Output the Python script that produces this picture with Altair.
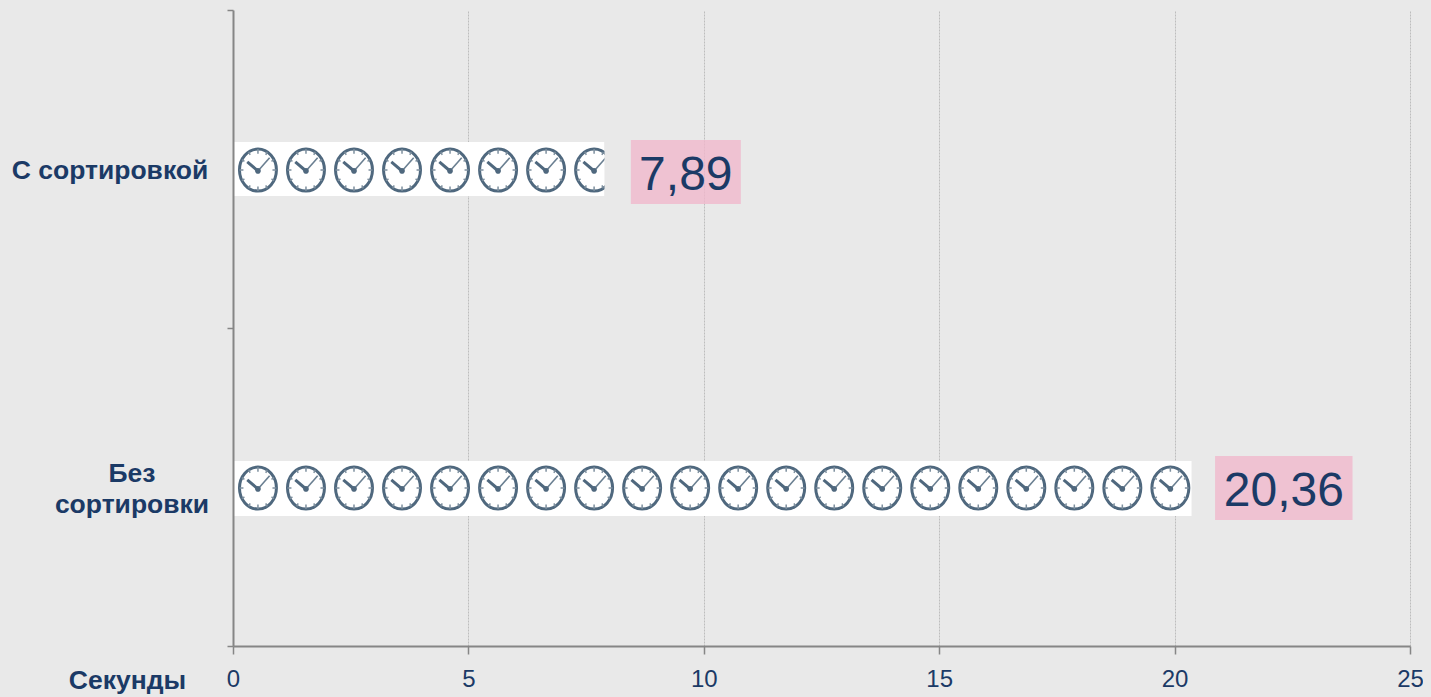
import math
import altair as alt
import pandas as pd

categories = ["С сортировкой", "Без сортировки"]
category_labels = ["С сортировкой", "Без\nсортировки"]
seconds = [7.89, 20.36]
value_labels = ["7,89", "20,36"]
clocks_sorted = [0.53, 1.55, 2.57, 3.59, 4.61, 5.63, 6.65, 7.67]
clocks_unsorted = [0.53, 1.55, 2.57, 3.59, 4.61, 5.63, 6.65, 7.67, 8.69, 9.71,
                   10.73, 11.75, 12.77, 13.79, 14.81, 15.83, 16.85, 17.87, 18.89, 19.91]
x_ticks = [0, 5, 10, 15, 20, 25]

BG = "#e9e9e9"
INK = "#1b3a66"
AXIS = "#868686"
CLOCK = "#4f687e"

bars = pd.DataFrame({"cat": categories, "label": category_labels, "value": seconds, "text": value_labels})
clocks = pd.DataFrame({
    "cat": [categories[0]] * len(clocks_sorted) + [categories[1]] * len(clocks_unsorted),
    "x": clocks_sorted + clocks_unsorted,
})

X = alt.X("value:Q", scale=alt.Scale(domain=[0, 25], nice=False), axis=alt.Axis(
    values=x_ticks, format="d", title="Секунды", titleFont="Liberation Sans", titleFontSize=26.5,
    titleFontWeight="bold", titleColor=INK, titleX=-106, titleY=34, titleAlign="center",
    titleBaseline="middle", labelFont="Liberation Sans", labelFontSize=24, labelColor=INK,
    labelPadding=13, labelFlush=False, tickColor=AXIS, tickSize=8, tickWidth=1.5, domainColor=AXIS, domainWidth=2,
    grid=True, gridColor="#bdbdbd", gridWidth=1, gridDash=[2, 1], zindex=0))
Y = alt.Y("cat:N", sort=categories, scale=alt.Scale(paddingInner=0, paddingOuter=0), axis=alt.Axis(
    title=None, labels=False, bandPosition=0, tickBand="extent", tickColor=AXIS, tickSize=6,
    tickWidth=1.5, domainColor=AXIS, domainWidth=2, grid=False, zindex=1))
Y_PLAIN = alt.Y("cat:N", sort=categories)

base = alt.Chart(bars)


def only(index):
    return base.transform_filter(alt.datum.cat == categories[index])


bar_a = only(0).mark_bar(color="#ffffff", size=54).encode(x=X, y=Y)
bar_b = only(1).mark_bar(color="#ffffff", size=55, yOffset=1.5).encode(x=alt.X("value:Q"), y=Y_PLAIN)


def ring():
    return "M-0.84,0.05A0.84,0.955,0,1,1,0.84,0.05A0.84,0.955,0,1,1,-0.84,0.05Z"


def ticks():
    parts = []
    for k in range(12):
        a = k * math.pi / 6
        inner = 0.66 if k % 3 == 0 else 0.71
        parts.append("M%.3f,%.3fL%.3f,%.3f" % (0.84 * math.cos(a), 0.05 + 0.955 * math.sin(a),
                                              inner * math.cos(a), 0.05 + inner * 1.13 * math.sin(a)))
    return "".join(parts)


HUB = "M-0.13,0.09A0.13,0.13,0,1,1,0.13,0.09A0.13,0.13,0,1,1,-0.13,0.09Z"
HOUR = "M0,0.09L-0.486,-0.32"
MINUTE = "M0,0.09L0.53,-0.51"
SIZE = 44 ** 2
clock_base = alt.Chart(clocks).encode(x=alt.X("x:Q"), y=Y_PLAIN)
clock_layers = [
    clock_base.mark_point(shape=ring(), size=SIZE, stroke=CLOCK, strokeWidth=3, fill="#ffffff", fillOpacity=1, opacity=1),
    clock_base.mark_point(shape=ticks(), size=SIZE, stroke="#7d8f9e", strokeWidth=1.5, filled=False, opacity=1),
    clock_base.mark_point(shape=HOUR, size=SIZE, stroke=CLOCK, strokeWidth=3, filled=False, opacity=1),
    clock_base.mark_point(shape=MINUTE, size=SIZE, stroke="#6a7f91", strokeWidth=1.6, filled=False, opacity=1),
    clock_base.mark_point(shape=HUB, size=SIZE, fill=CLOCK, filled=True, opacity=1, strokeWidth=0),
]

# Hides the part of a clock that runs past the end of its bar.
mask = only(0).transform_calculate(end="datum.value + 0.5").mark_bar(color=BG, size=56).encode(
    x=alt.X("value:Q"), x2="end:Q", y=Y_PLAIN)


def box(index, gap, offset):
    return only(index).transform_calculate(
        left=f"datum.value + {gap}", right=f"datum.value + {gap} + length(datum.text) * 0.584"
    ).mark_bar(color="#f0b8cc", opacity=0.8, size=64, yOffset=offset).encode(
        x=alt.X("left:Q"), x2="right:Q", y=Y_PLAIN)


def value_text(index, gap, dy):
    return only(index).transform_calculate(mid=f"datum.value + {gap} + length(datum.text) * 0.292").mark_text(
        font="Liberation Sans", fontSize=48, color=INK, align="center", baseline="middle", dy=dy).encode(
        x=alt.X("mid:Q"), y=Y_PLAIN, text="text:N")


def cat_text(index, px, dy):
    return only(index).mark_text(
        font="Liberation Sans", fontSize=26.5, fontWeight="bold", color=INK, align="center",
        baseline="middle", lineBreak="\n", lineHeight=31, dy=dy).encode(
        x=alt.value(px), y=Y_PLAIN, text="label:N")


chart = alt.layer(
    bar_a, bar_b, *clock_layers, mask,
    box(0, 0.56, 3), box(1, 0.5, 1),
    value_text(0, 0.56, 7), value_text(1, 0.5, 5),
    cat_text(0, -123, 2), cat_text(1, -101, -13),
).properties(
    width=1177, height=636, background=BG, padding={"left": 225, "top": 2, "right": 13, "bottom": 51},
    autosize=alt.AutoSizeParams(type="none"),
).configure_view(stroke=None)

chart.save("out.html", embed_options={"renderer": "svg", "actions": False,
                                      "defaultStyle": "body{background:#e9e9e9;overflow:hidden}"})
